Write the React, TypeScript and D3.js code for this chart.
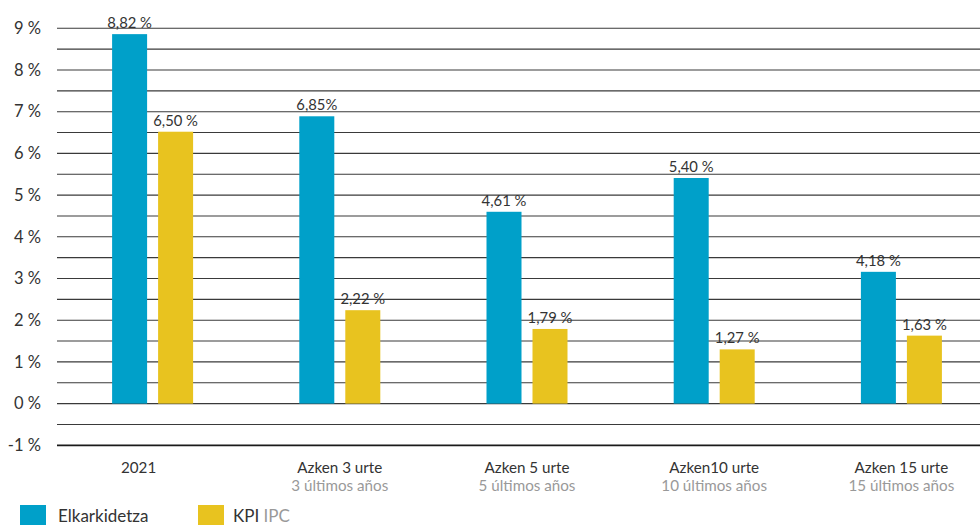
import React from 'react';
import * as d3 from 'd3';

const categories = ['2021', 'Azken 3 urte', 'Azken 5 urte', 'Azken10 urte', 'Azken 15 urte'];
const subLabels = ['', '3 últimos años', '5 últimos años', '10 últimos años', '15 últimos años'];
const series = ['Elkarkidetza', 'KPI'];
// bar heights as drawn in the picture
const elkarValues = [8.86, 6.89, 4.6, 5.41, 3.16];
const kpiValues = [6.52, 2.24, 1.79, 1.3, 1.63];
// printed labels above the bars
const elkarLabels = ['8,82 %', '6,85%', '4,61 %', '5,40 %', '4,18 %'];
const kpiLabels = ['6,50 %', '2,22 %', '1,79 %', '1,27 %', '1,63 %'];
const yTicks = [-1, 0, 1, 2, 3, 4, 5, 6, 7, 8, 9];

const W = 980;
const H = 525;
const BLUE = '#00A0C9';
const YELLOW = '#E8C31F';
const FONT = 'Lato, "Open Sans", sans-serif';

const App: React.FC = () => {
  const y = d3.scaleLinear().domain([-1, 9]).range([445.3, 28.3]);
  const x = d3.scaleBand<string>().domain(categories).range([59, 995]);
  const inner = d3.scaleBand<string>().domain(series).range([-40.5, 40.5]).paddingInner(0.239);
  const grid = d3.range(-1, 9.01, 0.5);
  const cx = (c: string) => (x(c) ?? 0) + x.bandwidth() / 2;

  const bars = categories.flatMap((c, i) => [
    { c, s: series[0], v: elkarValues[i], label: elkarLabels[i], color: BLUE },
    { c, s: series[1], v: kpiValues[i], label: kpiLabels[i], color: YELLOW },
  ]);

  return (
    <svg
      width={W}
      height={H}
      style={{ position: 'absolute', left: 0, top: 0, display: 'block', background: '#fff' }}
      fontFamily={FONT}
    >
      {grid.map((g) => (
        <line
          key={g}
          x1={57}
          x2={W}
          y1={y(g)}
          y2={y(g)}
          stroke={g === -1 ? '#1a1a1a' : '#3a3a3a'}
          strokeWidth={g === -1 ? 1.8 : 1.1}
        />
      ))}
      {yTicks.map((t) => (
        <text
          key={t}
          x={41}
          y={y(t)}
          dy="0.35em"
          textAnchor="end"
          fontSize={16.5}
          fill="#333"
        >
          {`${t} %`}
        </text>
      ))}
      {bars.map((b) => {
        const bx = cx(b.c) + (inner(b.s) ?? 0);
        return (
          <g key={b.c + b.s}>
            <rect x={bx} y={y(b.v)} width={inner.bandwidth()} height={y(0) - y(b.v)} fill={b.color} />
            <text
              x={bx + inner.bandwidth() / 2}
              y={y(b.v) - 6}
              textAnchor="middle"
              fontSize={14.8}
              fill="#333"
            >
              {b.label}
            </text>
          </g>
        );
      })}
      {categories.map((c, i) => (
        <g key={c}>
          <text x={i === 0 ? cx(c) - 14 : cx(c)} y={473} textAnchor="middle" fontSize={15.2} fill="#333">
            {c}
          </text>
          {subLabels[i] && (
            <text x={cx(c)} y={491} textAnchor="middle" fontSize={15.2} fill="#999">
              {subLabels[i]}
            </text>
          )}
        </g>
      ))}
      <rect x={20} y={505} width={26} height={24} fill={BLUE} />
      <text x={58} y={521.5} fontSize={17} fill="#333">
        Elkarkidetza
      </text>
      <rect x={198} y={505} width={26} height={24} fill={YELLOW} />
      <text x={233} y={521.5} fontSize={17} fill="#333">
        KPI <tspan fill="#999">IPC</tspan>
      </text>
    </svg>
  );
};

export default App;
